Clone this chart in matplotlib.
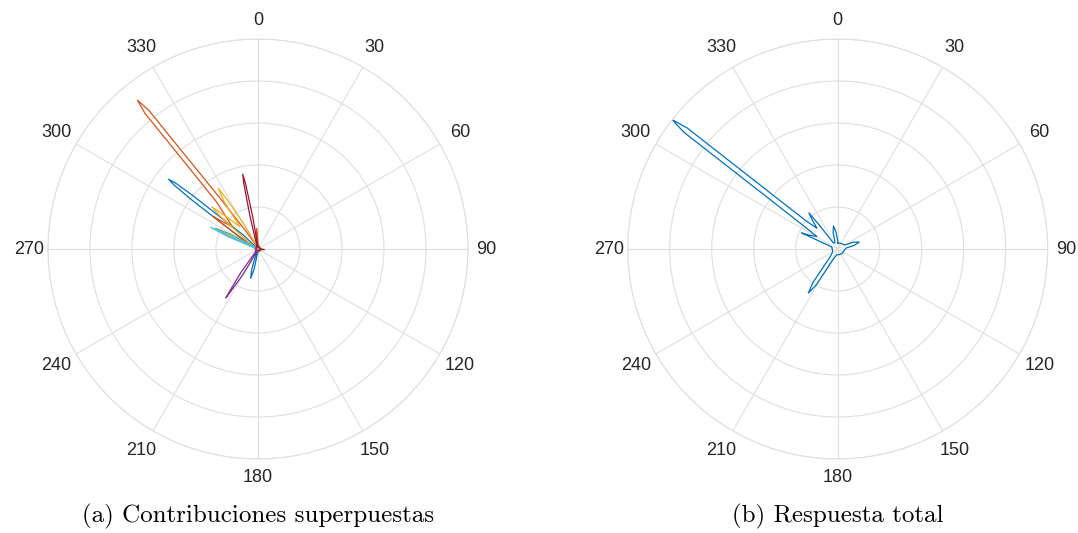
import numpy as np
import matplotlib.pyplot as plt

# MATLAB default line colours
blue = "#0072BD"
orange = "#D95319"
yellow = "#EDB120"
purple = "#7E2F8E"
green = "#77AC30"
lightblue = "#4DBEEE"
darkred = "#A2142F"

# (a) individual contributions: outline vertices (angle in deg, radius)
blue_th = [0, 60, 120, 180, 186, 191, 194, 197, 202, 240, 280, 300,
           302.6, 305.3, 306.6, 307.3, 308, 308.7, 309.4, 310.7, 313.4, 316, 340]
blue_r = [0.05, 0.05, 0.05, 0.06, 0.1, 0.5, 0.72, 0.5, 0.1, 0.05, 0.05, 0.08,
          0.5, 1.0, 2.0, 2.5, 2.7, 2.5, 2.0, 1.0, 0.5, 0.08, 0.05]

orange_th = [-9, -5.5, -4, -2.5, 1, 30, 90, 150, 210, 270, 300, 303.5, 305.4,
             306, 307, 311, 318.7, 319.9, 320.2, 321, 321.8, 322.1, 323.3,
             326, 332]
orange_r = [0.1, 0.4, 0.49, 0.4, 0.1, 0.07, 0.07, 0.07, 0.07, 0.07, 0.09, 0.5,
            1.1, 1.32, 1.15, 0.8, 1.5, 3.0, 4.2, 4.56, 4.2, 3.0, 1.5,
            0.5, 0.1]

yellow_th = [0, 90, 180, 270, 300, 306, 311, 312.4, 314.5, 321, 324.5,
             326.8, 328, 331, 335]
yellow_r = [0.05, 0.05, 0.05, 0.05, 0.05, 0.3, 1.2, 1.49, 1.2, 0.68, 1.4,
            1.73, 1.4, 0.6, 0.1]

purple_th = [0, 90, 180, 206, 210.5, 212.7, 213.3, 213.9, 216, 220, 270]
purple_r = [0.05, 0.05, 0.05, 0.1, 0.7, 1.2, 1.39, 1.2, 0.7, 0.1, 0.05]

green_th = [0, 90, 180, 270, 289, 294, 296, 298, 303]
green_r = [0.05, 0.05, 0.05, 0.05, 0.1, 0.8, 1.12, 0.8, 0.1]

lightblue_th = [0, 90, 180, 270, 288, 292.5, 294.6, 296.5, 301]
lightblue_r = [0.05, 0.05, 0.05, 0.05, 0.1, 0.8, 1.24, 0.8, 0.1]

darkred_th = [0, 85, 95, 105, 180, 270, 342, 346.3, 347.8, 348.5, 349.2,
              350.7, 355]
darkred_r = [0.05, 0.06, 0.15, 0.06, 0.05, 0.05, 0.1, 0.8, 1.6, 1.82, 1.6,
             0.8, 0.1]

# (b) total response
total_th = [0, 20, 60.6, 66.2, 72, 77.8, 83.4, 100, 130, 160, 190, 202.9,
            209.1, 211, 213.7, 216.4, 218.3, 224.5, 240, 270, 283, 290,
            292, 293.5, 294, 296, 301, 304.3, 306.2, 306.95, 307.2, 308,
            308.8, 309.05, 309.8, 311.7, 315, 318.5, 321.4, 322.5, 324, 335,
            339.5, 344.4, 349.5, 354.6, 359.5]
total_r = [0.14, 0.15, 0.2, 0.4, 0.54, 0.4, 0.2, 0.16, 0.15, 0.14, 0.14, 0.25,
           0.6, 1.0, 1.26, 1.0, 0.6, 0.25, 0.14, 0.13, 0.14, 0.17,
           0.3, 0.6, 0.94, 0.75, 0.58, 1.0, 2.0, 3.5, 4.6, 5.0,
           4.6, 3.5, 2.0, 1.0, 0.7, 0.9, 1.1, 0.7, 0.18, 0.16,
           0.2, 0.4, 0.56, 0.4, 0.2]

curves_a = [
    (blue_th, blue_r, blue),
    (orange_th, orange_r, orange),
    (yellow_th, yellow_r, yellow),
    (purple_th, purple_r, purple),
    (green_th, green_r, green),
    (lightblue_th, lightblue_r, lightblue),
    (darkred_th, darkred_r, darkred),
]
curves_b = [(total_th, total_r, blue)]

theta_ticks = list(range(0, 360, 30))
r_ticks = [1, 2, 3, 4, 5]
r_max = 5
grid_col = "#DFDFDF"
label_col = "#262626"


def closed(th, r):
    th = np.deg2rad(np.append(th, th[0] + 360))
    r = np.append(r, r[0])
    return th, r


def style_polar(ax):
    ax.set_theta_zero_location("N")
    ax.set_theta_direction(-1)
    ax.set_ylim(0, r_max)
    ax.set_rticks(r_ticks)
    ax.set_yticklabels([])
    ax.set_thetagrids(theta_ticks, [""] * len(theta_ticks))
    ax.grid(True, color=grid_col, lw=0.8)
    ax.spines["polar"].set_color(grid_col)
    ax.spines["polar"].set_linewidth(0.8)
    # angle labels centred at a fixed distance outside the circle
    for t in theta_ticks:
        extra = 0.025 * abs(np.sin(np.deg2rad(2 * t)))
        ax.text(np.deg2rad(t), r_max * (1.088 + extra), str(t),
                ha="center", va="center", fontsize=13, color=label_col,
                family="Liberation Sans", clip_on=False)


fig = plt.figure(figsize=(10.78, 5.33), dpi=100)
ax1 = fig.add_axes([0.0445, 0.1388, 0.3896, 0.788], projection="polar")
ax2 = fig.add_axes([0.5823, 0.1388, 0.3896, 0.788], projection="polar")

for ax, curves in ((ax1, curves_a), (ax2, curves_b)):
    style_polar(ax)
    for th, r, col in curves:
        t, rr = closed(th, r)
        ax.plot(t, rr, color=col, lw=0.9)

fig.text(258 / 1078, 1 - 516 / 533, "(a) Contribuciones superpuestas",
         ha="center", va="center", fontsize=18, family="cmr10")
fig.text(838 / 1078, 1 - 516 / 533, "(b) Respuesta total",
         ha="center", va="center", fontsize=18, family="cmr10")

fig.savefig("out.png", dpi=100)
